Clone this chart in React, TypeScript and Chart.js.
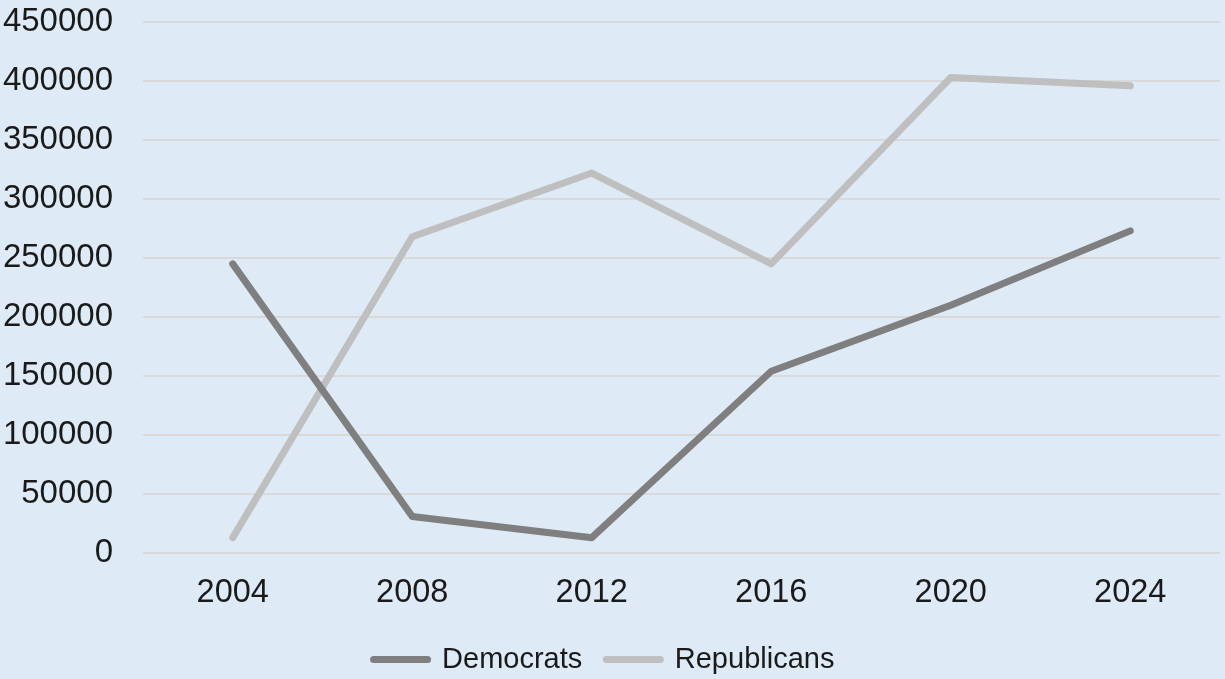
import React, { useEffect, useRef } from "react";
import { Chart, registerables } from "chart.js";

Chart.register(...registerables);

const categories = ["2004", "2008", "2012", "2016", "2020", "2024"];
const democrats = [245000, 31000, 13000, 154000, 210000, 273000];
const republicans = [13000, 268000, 322000, 245000, 403000, 396000];
const yTicks = [0, 50000, 100000, 150000, 200000, 250000, 300000, 350000, 400000, 450000];

const FONT = "'Liberation Sans', Arial, sans-serif";
const TEXT = "#1a1a1a";

const bgPlugin = {
  id: "bgFill",
  beforeDraw(chart: any) {
    const { ctx, width, height } = chart;
    ctx.save();
    ctx.fillStyle = "#deebf7";
    ctx.fillRect(0, 0, width, height);
    ctx.restore();
  },
};

const legendShift = {
  id: "legendShift",
  afterLayout(chart: any) {
    const lg = chart.legend;
    if (lg) {
      lg.top += 5;
      lg.bottom += 5;
      lg.left -= 6;
      lg.right -= 6;
    }
  },
};

export default function App() {
  const ref = useRef<HTMLCanvasElement | null>(null);
  useEffect(() => {
    if (!ref.current) return;
    const chart = new Chart(ref.current, {
      type: "line",
      data: {
        labels: categories,
        datasets: [
          {
            label: "Democrats",
            data: democrats,
            borderColor: "#7f7f7f",
            backgroundColor: "#7f7f7f",
            borderWidth: 7,
            borderCapStyle: "round",
            borderJoinStyle: "round",
            pointRadius: 0,
            tension: 0,
          },
          {
            label: "Republicans",
            data: republicans,
            borderColor: "#bfbfbf",
            backgroundColor: "#bfbfbf",
            borderWidth: 7,
            borderCapStyle: "round",
            borderJoinStyle: "round",
            pointRadius: 0,
            tension: 0,
          },
        ],
      },
      options: {
        animation: false,
        responsive: false,
        maintainAspectRatio: false,
        layout: { padding: { top: 22, right: 5, left: 0, bottom: 0 } },
        plugins: {
          tooltip: { enabled: false },
          legend: {
            position: "bottom",
            labels: {
              usePointStyle: true,
              pointStyle: "line",
              pointStyleWidth: 54,
              boxHeight: 7,
              padding: 24,
              color: TEXT,
              font: { family: FONT, size: 29 },
              generateLabels(chart: any) {
                const items = Chart.defaults.plugins.legend.labels.generateLabels(chart);
                return items.map((it: any) => ({ ...it, lineCap: "round", lineWidth: 7 }));
              },
            },
          },
        },
        scales: {
          x: {
            offset: true,
            grid: { display: false, drawTicks: false },
            border: { display: false },
            ticks: {
              padding: 21,
              color: TEXT,
              font: { family: FONT, size: 32.5 },
            },
            afterFit(scale: any) {
              scale.height = 63;
              scale.paddingLeft = 0;
              scale.paddingRight = 0;
            },
          },
          y: {
            min: 0,
            max: 450000,
            afterBuildTicks(scale: any) {
              scale.ticks = yTicks.map((v) => ({ value: v }));
            },
            grid: { color: "#d9d9d9", lineWidth: 2, drawTicks: false },
            border: { display: false },
            ticks: {
              padding: 30,
              color: TEXT,
              font: { family: FONT, size: 33 },
              callback: (v: any) => String(v),
            },
            afterFit(scale: any) {
              scale.width = 143;
              scale.paddingTop = 0;
              scale.paddingBottom = 0;
            },
          },
        },
      },
      plugins: [bgPlugin, legendShift],
    });
    return () => chart.destroy();
  }, []);
  return (
    <div style={{ position: "fixed", left: 0, top: 0, width: 1225, height: 679 }}>
      <canvas ref={ref} width={1225} height={679} style={{ width: 1225, height: 679, display: "block" }} />
    </div>
  );
}
